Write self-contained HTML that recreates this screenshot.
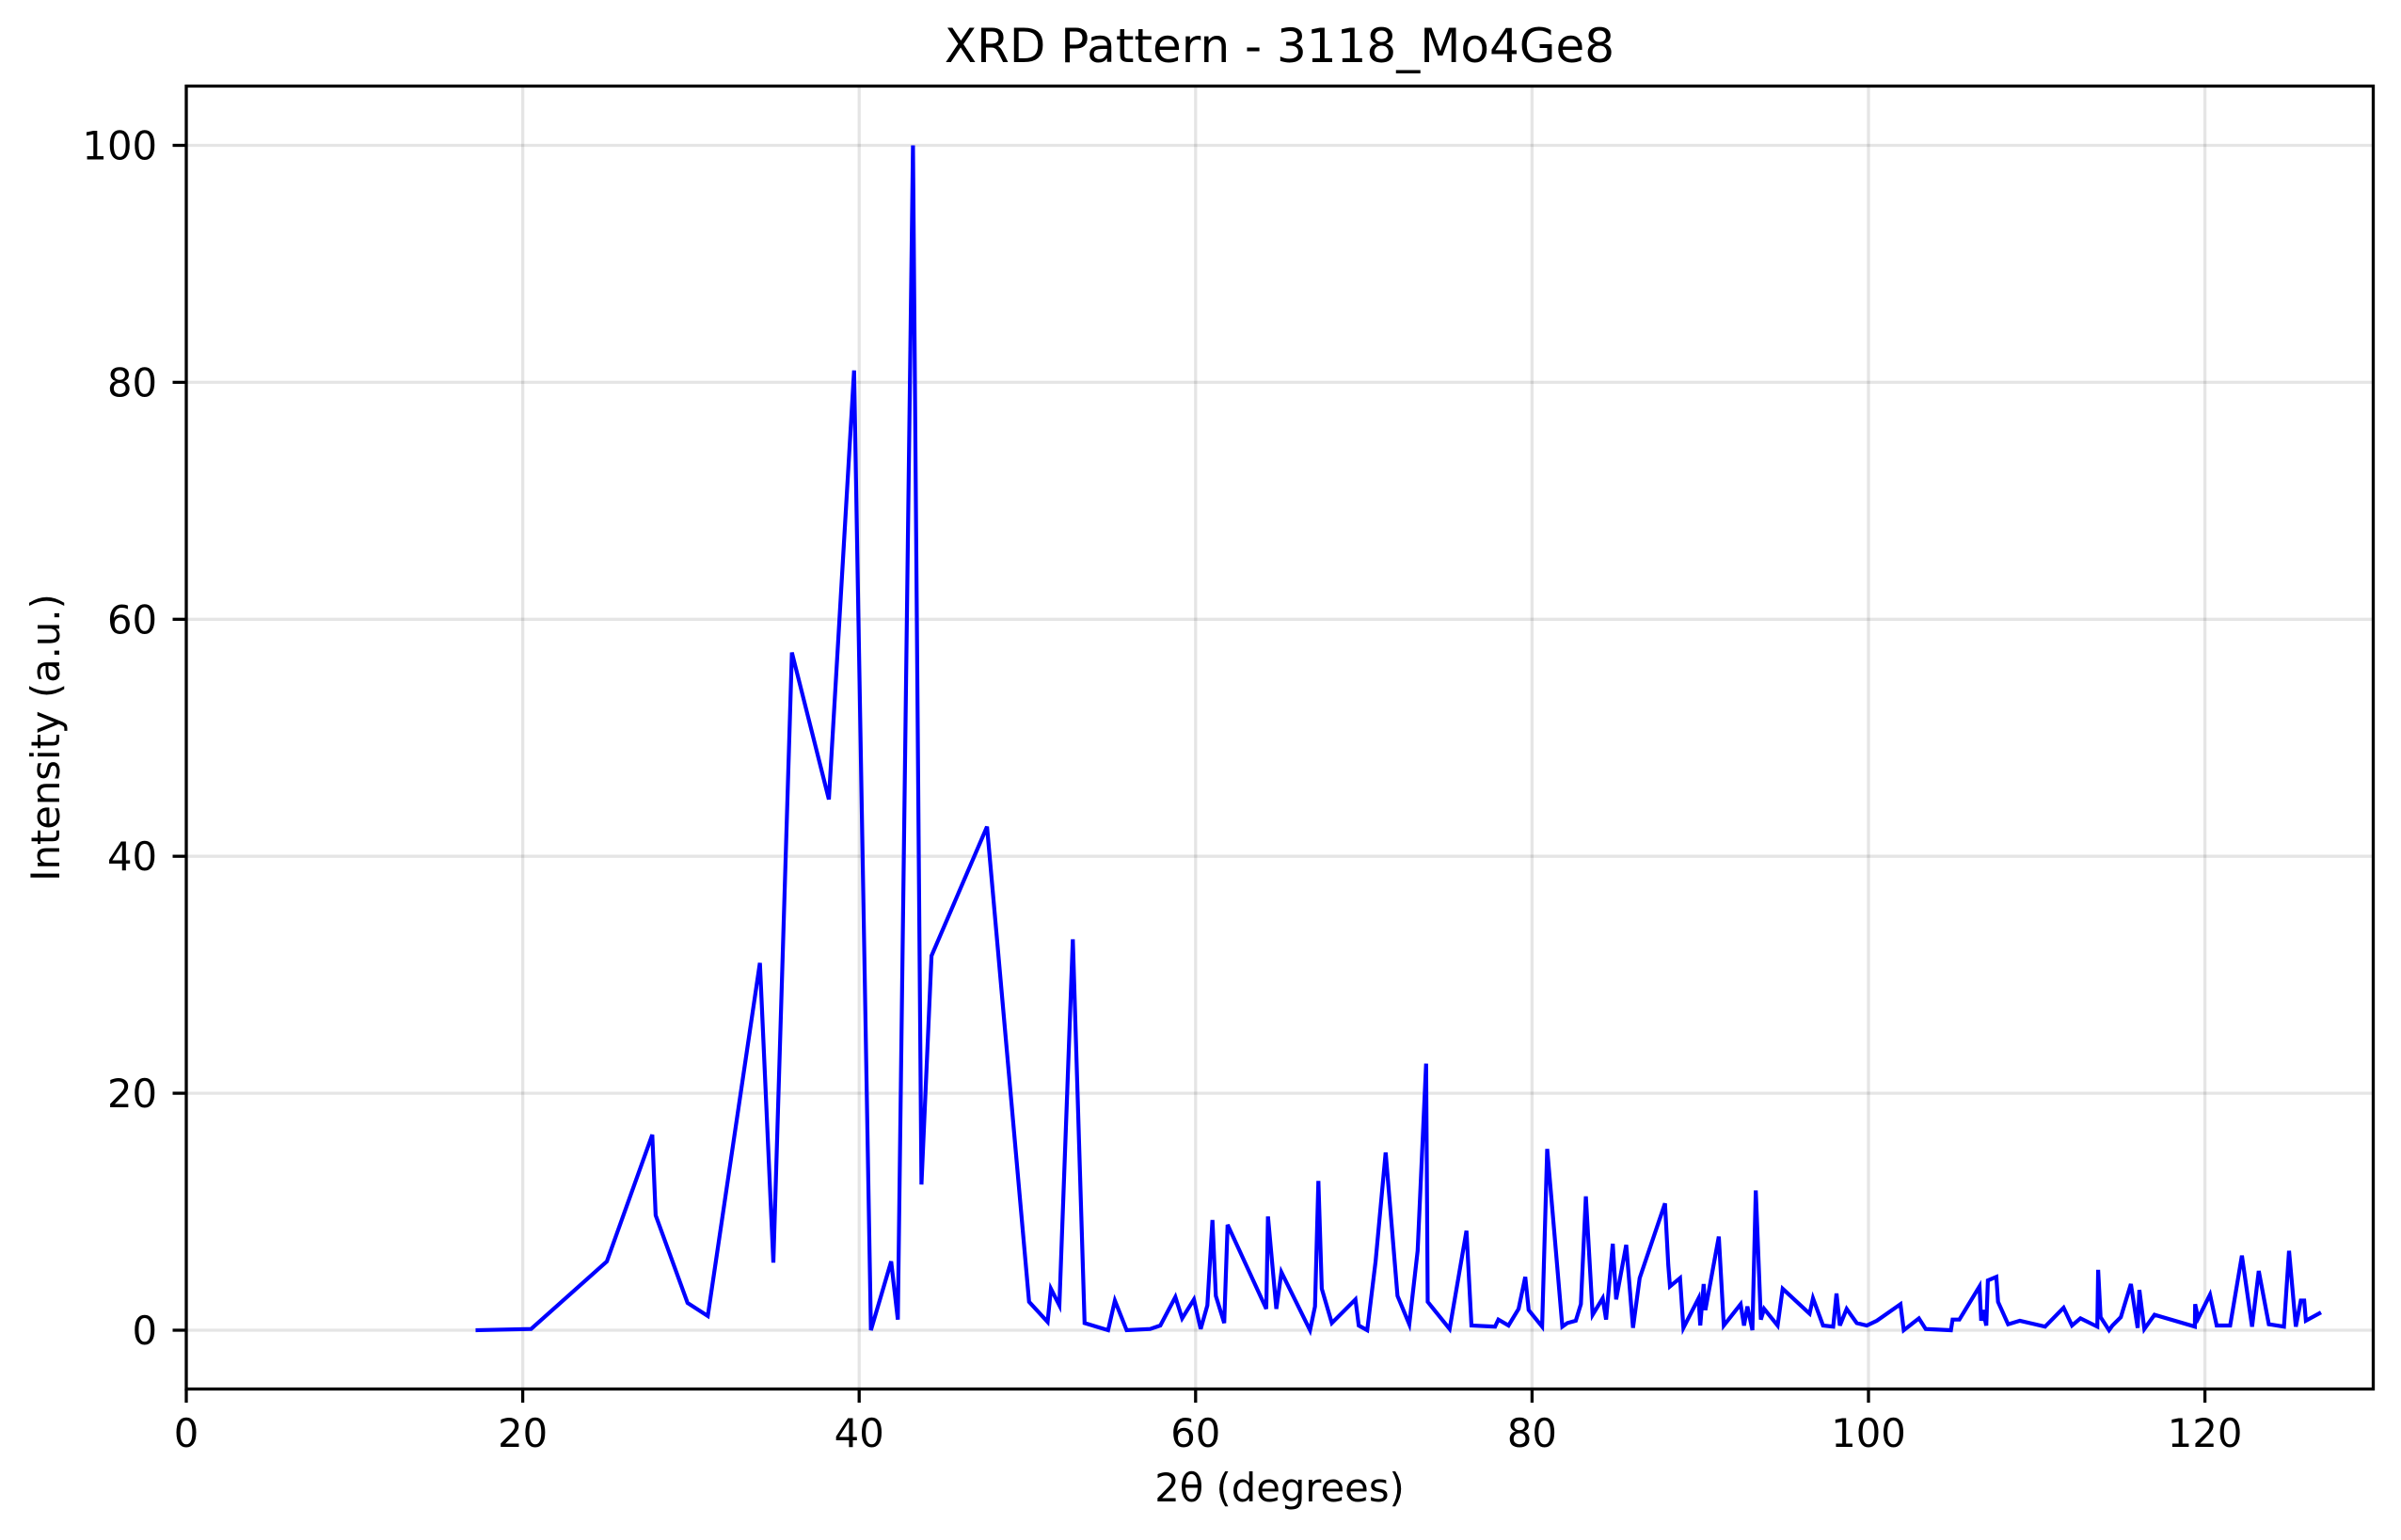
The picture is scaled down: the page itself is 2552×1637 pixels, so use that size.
<!DOCTYPE html>
<html><head><meta charset="utf-8"><style>
html,body{margin:0;padding:0;background:#fff;}
svg{display:block;font-family:"DejaVu Sans","Liberation Sans",sans-serif;}
</style></head><body>
<svg id="chart" width="2552" height="1637" viewBox="0 0 2552 1637" xmlns="http://www.w3.org/2000/svg">
<rect width="2552" height="1637" fill="#fff"/>
<g id="grid"></g>
<g id="series"></g>
<rect x="198" y="91.5" width="2324.5" height="1385" fill="none" stroke="#000" stroke-width="3.3"/>
<g id="ticks"></g>
<text x="1360" y="66" font-size="50" text-anchor="middle">XRD Pattern - 3118_Mo4Ge8</text>
<text x="1360" y="1596" font-size="41.7" text-anchor="middle">2θ (degrees)</text>
<text transform="translate(63,784) rotate(-90)" font-size="41.7" text-anchor="middle">Intensity (a.u.)</text>
</svg>
<script>
const xTicks=[0,20,40,60,80,100,120];
const yTicks=[0,20,40,60,80,100];
const twoTheta=[17.2,20.5,25,27.7,27.9,29.8,31,34.1,34.9,36,38.2,39.7,40.7,41.9,42.3,43.2,43.7,44.3,47.6,50.1,51.2,51.4,51.9,52.7,53.4,54.8,55.2,55.9,57.3,57.9,58.8,59.2,59.9,60.3,60.7,61.0,61.2,61.7,61.9,64.2,64.3,64.8,65.1,66.8,67.1,67.3,67.5,68.1,69.5,69.7,70.2,70.7,71.3,72,72.7,73.2,73.7,73.8,75.1,76.1,76.4,77.8,78,78.6,79.2,79.6,79.8,80.6,80.9,81.8,82.1,82.6,82.9,83.2,83.6,84.2,84.4,84.8,85,85.6,86,86.4,87.9,88.1,88.2,88.8,89,89.9,90,90.2,90.3,91.1,91.4,92.4,92.6,92.8,93.1,93.3,93.6,93.8,94.6,94.9,96.5,96.7,97.3,97.9,98.1,98.3,98.7,99.3,99.9,100.5,101.9,102.1,103,103.4,104.9,105,105.4,106.6,106.7,106.8,107,107.1,107.6,107.7,108.3,109,110.5,111.6,112.1,112.6,113.6,113.65,113.8,114.3,114.5,115,115.6,116,116.1,116.4,117,119.4,119.42,119.6,120.3,120.7,121.5,122.2,122.8,123.2,123.8,124.7,125,125.4,125.7,125.9,126,126.9];
const intensity=[0,0.1,5.8,16.5,9.7,2.3,1.2,31,5.7,57.2,44.8,81,0,5.8,0.9,100,12.3,31.6,42.5,2.4,0.7,3.5,2.1,33,0.6,0,2.5,0,0.1,0.4,2.8,1,2.6,0.1,2.1,9.3,2.9,0.6,8.9,1.8,9.6,1.8,4.9,0,2.0,12.6,3.5,0.6,2.6,0.4,0,5.8,15,2.9,0.5,6.7,22.5,2.4,0.1,8.4,0.4,0.3,0.9,0.4,1.8,4.5,1.7,0.3,15.3,0.3,0.6,0.8,2.2,11.3,1.3,2.7,0.9,7.3,2.6,7.2,0.2,4.4,10.7,5.5,3.7,4.4,0.2,2.7,0.4,3.9,1.7,7.9,0.4,2.2,0.4,2.0,0,11.8,0.9,1.8,0.4,3.5,1.4,2.7,0.4,0.3,3.1,0.4,1.8,0.6,0.4,0.8,2.2,0,1.0,0.1,0,0.9,0.9,3.7,0.8,1.7,0.4,4.2,4.5,2.4,0.5,0.8,0.3,1.9,0.4,1.0,0.3,5.1,1.1,0,0.4,1.1,3.9,0.2,3.4,0.1,1.3,0.3,2.2,1.0,3.0,0.4,0.4,6.3,0.3,5.0,0.5,0.3,6.7,0.3,2.5,2.5,0.8,1.5];
const NS='http://www.w3.org/2000/svg';
function xs(v){return 198+v*17.88;}
function ys(v){return 1414-v*12.595;}
function mk(tag,attrs,parent){const e=document.createElementNS(NS,tag);for(const k in attrs)e.setAttribute(k,attrs[k]);parent.appendChild(e);return e;}
const grid=document.getElementById('grid'),ticks=document.getElementById('ticks'),series=document.getElementById('series');
xTicks.forEach(t=>{
  const g=mk('line',{x1:xs(t),x2:xs(t),y1:91.5,y2:1476.5,stroke:'#000','stroke-opacity':0.1,'stroke-width':3.3},grid);
  
  
  const tk=mk('line',{x1:xs(t),x2:xs(t),y1:1476.5,y2:1491,stroke:'#000','stroke-width':3.3},ticks);
  
  
  const tl=mk('text',{x:xs(t),y:1538,'font-size':41.7,'text-anchor':'middle'},ticks);
  tl.textContent=t;
  
  
});
yTicks.forEach(t=>{
  const g=mk('line',{x1:198,x2:2522.5,y1:ys(t),y2:ys(t),stroke:'#000','stroke-opacity':0.1,'stroke-width':3.3},grid);
  
  
  const tk=mk('line',{x1:183.5,x2:198,y1:ys(t),y2:ys(t),stroke:'#000','stroke-width':3.3},ticks);
  
  
  const tl=mk('text',{x:167,y:ys(t)+15,'font-size':41.7,'text-anchor':'end'},ticks);
  tl.textContent=t;
  
  
});
const pts=twoTheta.map((x,i)=>xs(x).toFixed(1)+','+ys(intensity[i]).toFixed(1)).join(' ');
const line=mk('polyline',{points:pts,fill:'none',stroke:'#0000ff','stroke-width':4.2,'stroke-linejoin':'miter'},series);


</script>
</body></html>
